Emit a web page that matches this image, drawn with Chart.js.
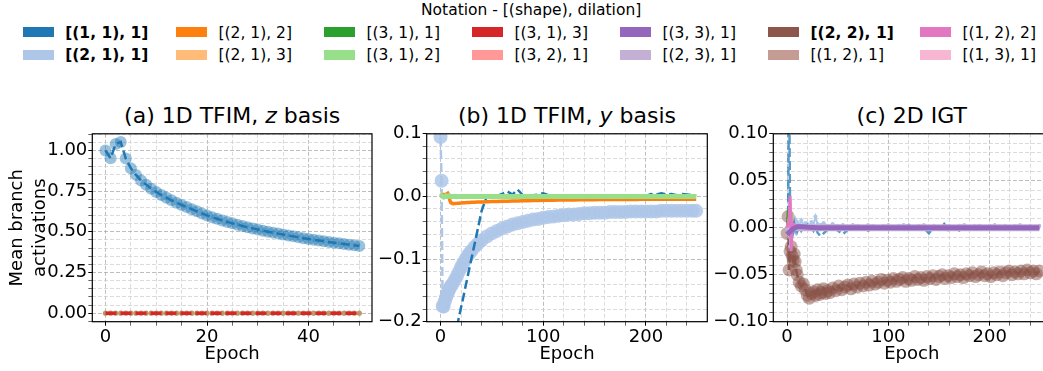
<!DOCTYPE html>
<html>
<head>
<meta charset="utf-8">
<script src="https://cdn.jsdelivr.net/npm/chart.js@4.4.1/dist/chart.umd.min.js"></script>
<style>
  html, body { margin: 0; padding: 0; background: #fff; }
  #page { position: relative; width: 1043px; height: 371px; overflow: hidden;
          font-family: 'DejaVu Sans', sans-serif; color: #000; }
  canvas { position: absolute; top: 100px; }
  .ptitle { position: absolute; top: 103.4px; font-size: 22px; line-height: 26px;
            white-space: nowrap; transform: translateX(-50%); }
  .lgtitle { position: absolute; left: 421px; top: 1.3px; font-size: 15.5px; line-height: 18px; white-space: nowrap; }
  .sw { position: absolute; width: 31px; height: 10px; }
  .lbl { position: absolute; font-size: 15.5px; line-height: 18px; white-space: nowrap; }
</style>
</head>
<body>
<div id="page">
  <div class="lgtitle">Notation - [(shape), dilation]</div>
  <div id="legend"></div>
  <div class="ptitle" style="left:232.2px">(a) 1D TFIM, <i>z</i> basis</div>
  <div class="ptitle" style="left:567px">(b) 1D TFIM, <i>y</i> basis</div>
  <div class="ptitle" style="left:911.8px">(c) 2D IGT</div>
  <canvas id="ca" width="380" height="271" style="left:0px"></canvas>
  <canvas id="cb" width="339" height="271" style="left:376px"></canvas>
  <canvas id="cc" width="351" height="271" style="left:706px"></canvas>
</div>
<script>
// legend
const legendLabels = ['[(1, 1), 1]', '[(2, 1), 1]', '[(2, 1), 2]', '[(2, 1), 3]', '[(3, 1), 1]', '[(3, 1), 2]', '[(3, 1), 3]',
  '[(3, 2), 1]', '[(3, 3), 1]', '[(2, 3), 1]', '[(2, 2), 1]', '[(1, 2), 1]', '[(1, 2), 2]', '[(1, 3), 1]'];
const legendColors = ['#1f77b4', '#aec7e8', '#ff7f0e', '#ffbb78', '#2ca02c', '#98df8a', '#d62728',
  '#ff9896', '#9467bd', '#c5b0d5', '#8c564b', '#c49c94', '#e377c2', '#f7b6d2'];
const legendBold = [true, true, false, false, false, false, false, false, false, false, true, false, false, false];

// (a) 1D TFIM, z basis
const epochsA = [0,1,2,3,4,5,6,7,8,9,10,11,12,13,14,15,16,17,18,19,20,21,22,23,24,25,
  26,27,28,29,30,31,32,33,34,35,36,37,38,39,40,41,42,43,44,45,46,47,48,49,50];
const blueA = [1.0, 0.952, 1.04, 1.052, 0.95, 0.89, 0.85, 0.815, 0.79, 0.765, 0.745,
  0.726, 0.71, 0.694, 0.679, 0.665, 0.652, 0.639, 0.626, 0.613, 0.601,
  0.59, 0.58, 0.57, 0.561, 0.552, 0.544, 0.536, 0.528, 0.521, 0.514,
  0.507, 0.501, 0.495, 0.489, 0.483, 0.477, 0.472, 0.466, 0.461, 0.456,
  0.451, 0.447, 0.442, 0.437, 0.433, 0.429, 0.425, 0.421, 0.417, 0.413];
const zeroA = [0,0,0,0,0,0,0,0,0,0,0,0,0,0,0,0,0,0,0,0,0,0,0,0,0,0,
  0,0,0,0,0,0,0,0,0,0,0,0,0,0,0,0,0,0,0,0,0,0,0,0,0];

// (b) and (c) share these epochs
const epochsBC = [0,1,2,3,4,5,6,7,8,9,10,
  12,14,16,18,20,22,24,26,28,30,
  33,36,40,
  45,50,55,60,65,70,75,80,85,90,
  95,100,105,110,115,120,125,130,135,140,
  145,150,155,160,165,170,175,180,185,190,
  195,200,205,210,215,220,225,230,235,240,
  245,249];
const epochsSpike = [0,1,2,3,4,5,6,7,8,10,15,20,30,50,100,150,200,249];
const epochsBrown = [0,1,2,3,4,5,6,7,8,9,10,
  12,14,16,18,20,22,24,26,28,30,32,34,36,38,40,
  42,45,48,51,54,57,60,63,66,69,72,75,78,81,84,87,90,93,96,99,
  102,105,108,111,114,117,120,123,126,129,132,135,138,141,144,147,150,153,156,159,
  162,165,168,171,174,177,180,183,186,189,192,195,198,201,204,207,210,213,216,219,
  222,225,228,231,234,237,240,243,246,249];

// (b) 1D TFIM, y basis
const lightBlueB = [0.095, 0.025, -0.175, -0.176, -0.168, -0.163, -0.158, -0.154, -0.150, -0.146, -0.143,
  -0.139, -0.133, -0.127, -0.120, -0.113, -0.107, -0.101, -0.096, -0.091, -0.087,
  -0.081, -0.076, -0.070,
  -0.064, -0.059, -0.055, -0.051, -0.048, -0.045, -0.043, -0.041, -0.039, -0.037,
  -0.036, -0.034, -0.033, -0.032, -0.031, -0.030, -0.029, -0.029, -0.028, -0.027,
  -0.027, -0.026, -0.026, -0.026, -0.025, -0.025, -0.025, -0.025, -0.024, -0.024,
  -0.024, -0.024, -0.024, -0.024, -0.023, -0.023, -0.023, -0.023, -0.023, -0.023,
  -0.023, -0.023];
const darkBlueB = [-0.330, -0.322, -0.315, -0.308, -0.300, -0.292, -0.285, -0.277, -0.270, -0.262, -0.254,
  -0.239, -0.223, -0.208, -0.192, -0.177, -0.162, -0.146, -0.131, -0.115, -0.100,
  -0.077, -0.054, -0.023,
  0.000, 0.002, 0.001, 0.004, 0.008, 0.003, 0.011, 0.002, 0.001, 0.002,
  0.003, 0.005, 0.002, 0.001, 0.001, 0.002, 0.001, 0.000, 0.001, 0.002,
  0.001, 0.002, 0.000, 0.001, 0.002, 0.001, 0.002, 0.001, 0.000, 0.001,
  0.002, 0.001, 0.004, 0.003, 0.005, 0.003, 0.004, 0.002, 0.004, 0.003,
  0.002, 0.001];
const orangeB = [0.000, 0.002, 0.002, 0.003, 0.003, 0.003, 0.004, 0.005, 0.002, -0.006, -0.010,
  -0.0115, -0.0112, -0.011, -0.0107, -0.0104, -0.0101, -0.0099, -0.0097, -0.0095, -0.0093,
  -0.0091, -0.0089, -0.0087,
  -0.0085, -0.0082, -0.008, -0.0078, -0.0076, -0.0074, -0.0072, -0.007, -0.0068, -0.0066,
  -0.0064, -0.0062, -0.006, -0.0059, -0.0058, -0.0057, -0.0056, -0.0055, -0.0054, -0.0053,
  -0.0052, -0.0051, -0.005, -0.005, -0.0049, -0.0049, -0.0048, -0.0048, -0.0047, -0.0047,
  -0.0046, -0.0046, -0.0046, -0.0046, -0.0046, -0.0045, -0.0045, -0.0045, -0.0045, -0.0045,
  -0.0045, -0.0045];
const greenB = [0.0, 0.001, 0.0, -0.001, 0.0, 0.001, 0.0, 0.0, 0.001, 0.0, 0.0, 0.0, 0.0, 0.0, 0.0, 0.0, 0.0, 0.0];

// (c) 2D IGT
const brownC = [-0.006, 0.012, -0.045, -0.025, -0.020, -0.030, -0.035, -0.028, -0.036, -0.045, -0.050,
  -0.058, -0.062, -0.060, -0.066, -0.072, -0.075, -0.070, -0.068, -0.072, -0.066, -0.071, -0.069, -0.065, -0.070, -0.067,
  -0.069, -0.064, -0.067, -0.062, -0.066, -0.063, -0.061, -0.065, -0.060, -0.063, -0.059, -0.062, -0.058, -0.061,
  -0.057, -0.060, -0.058, -0.055, -0.059, -0.056,
  -0.058, -0.054, -0.057, -0.055, -0.053, -0.057, -0.054, -0.056, -0.052, -0.055,
  -0.053, -0.056, -0.052, -0.054, -0.051, -0.055, -0.052, -0.050, -0.054, -0.051,
  -0.053, -0.049, -0.052, -0.050, -0.053, -0.049, -0.051, -0.048, -0.052, -0.050,
  -0.047, -0.051, -0.049, -0.052, -0.048, -0.050, -0.047, -0.051, -0.048, -0.046,
  -0.050, -0.047, -0.049, -0.046, -0.049, -0.045, -0.048, -0.046, -0.049, -0.046];
const darkBlueC = [0.000, 0.005, 0.160, 0.004, -0.010, 0.006, -0.003, 0.004, -0.002, 0.003, -0.004,
  0.002, -0.003, 0.001, -0.002, 0.002, -0.004, 0.001, -0.003, 0.002, -0.005,
  -0.009, -0.006, -0.002,
  0.001, -0.003, -0.007, -0.002, 0.000, -0.002, 0.001, -0.003, -0.001, 0.000,
  -0.002, 0.001, -0.001, -0.002, 0.000, 0.003, 0.002, -0.002, 0.000, -0.006,
  0.001, -0.001, 0.004, -0.004, 0.000, -0.003, 0.001, -0.001, 0.000, 0.002,
  -0.001, 0.001, 0.000, 0.002, -0.001, 0.001, 0.000, -0.001, 0.001, 0.000,
  0.001, 0.000];
const lightBlueC = [0.000, -0.004, 0.010, -0.020, 0.010, 0.008, 0.012, 0.005, 0.009, 0.004, 0.006,
  0.003, 0.008, 0.002, 0.005, 0.004, 0.002, 0.006, 0.003, 0.012, 0.004,
  0.003, 0.005, 0.002,
  0.004, 0.002, 0.003, 0.001, 0.003, 0.002, 0.001, 0.003, 0.002, 0.001,
  0.002, 0.003, 0.001, 0.002, 0.003, 0.002, 0.001, 0.002, 0.003, 0.001,
  0.002, 0.001, 0.003, 0.002, 0.001, 0.002, 0.003, 0.001, 0.002, 0.002,
  0.001, 0.002, 0.003, 0.001, 0.002, 0.001, 0.002, 0.003, 0.001, 0.002,
  0.001, 0.002];
const purpleC = [-0.007, -0.006, -0.005, -0.004, -0.003, -0.002, -0.001, -0.0005, 0.0, 0.001, 0.001, 0.0005, 0.0, 0.0, 0.0, 0.0, 0.0, 0.0];
const lavenderC = [-0.004, -0.003, -0.002, -0.002, -0.001, -0.001, 0.0, 0.0, 0.0, 0.0, 0.0, 0.0, 0.0, 0.0, 0.0, 0.0, 0.0, 0.0];
const pinkC = [0.0, 0.004, 0.010, 0.034, -0.025, 0.004, 0.002, 0.003, 0.001, 0.002, 0.001, 0.001, 0.0, 0.0, 0.0, 0.0, 0.0, 0.0];
const lightPinkC = [0.0, 0.002, 0.006, 0.012, -0.006, 0.003, 0.002, 0.002, 0.001, 0.001, 0.001, 0.0, 0.0, 0.0, 0.0, 0.0, 0.0, 0.0];
const greenC = [0.0, 0.019, -0.008, 0.006, -0.011, 0.002, -0.002, 0.001, 0.0, 0.002, 0.0, 0.001, 0.0, 0.0, 0.0, 0.0, 0.0, 0.0];
const orangeC = [0.0, 0.002, 0.004, 0.013, 0.015, 0.004, 0.001, 0.002, 0.0, 0.001, 0.0, 0.0, 0.0, 0.0, 0.0, 0.0, 0.0, 0.0];

// ---- legend (html) ----
const colLeft = [22.7, 176, 324, 472, 620, 768, 920];
const legendBox = document.getElementById('legend');
legendLabels.forEach((lab, k) => {
  const col = Math.floor(k / 2), row = k % 2;
  const sw = document.createElement('div');
  sw.className = 'sw';
  sw.style.left = colLeft[col] + 'px';
  sw.style.top = (row ? 50 : 26.7) + 'px';
  sw.style.background = legendColors[k];
  legendBox.appendChild(sw);
  const t = document.createElement('div');
  t.className = 'lbl';
  t.textContent = lab;
  t.style.left = (colLeft[col] + 42.5) + 'px';
  t.style.top = (row ? 46 : 23.5) + 'px';
  if (legendBold[k]) t.style.fontWeight = 'bold';
  legendBox.appendChild(t);
});

// ---- charts ----
Chart.defaults.font.family = "'DejaVu Sans', sans-serif";
Chart.defaults.color = '#000';

const frame = {
  id: 'frame',
  afterDraw(chart) {
    const { ctx, chartArea: a } = chart;
    ctx.save();
    ctx.strokeStyle = '#000';
    ctx.lineWidth = 1.2;
    ctx.strokeRect(a.left, a.top, a.right - a.left, a.bottom - a.top);
    ctx.restore();
  }
};

const minus = s => s.replace('-', '\u2212');
const clean = v => (Math.abs(v) < 1e-9 ? 0 : v);

function scale(o) {
  const isMaj = v => Math.abs(v / o.major - Math.round(v / o.major)) < 1e-6;
  const maj = c => c.tick && isMaj(c.tick.value);
  return {
    type: 'linear',
    min: o.min,
    max: o.max,
    afterFit: s => {
      if (o.width) s.width = o.width;
      if (o.height) s.height = o.height;
    },
    border: { display: false, dash: [4, 2] },
    grid: {
      color: c => (maj(c) ? '#adadad' : '#d2d2d2'),
      lineWidth: 0.8,
      tickLength: 4,
      tickColor: '#000',
      tickWidth: c => (maj(c) ? 1 : 0.6)
    },
    ticks: {
      stepSize: o.step,
      autoSkip: false,
      includeBounds: false,
      maxRotation: 0,
      padding: 1,
      font: { size: 18 },
      callback: v => (isMaj(v) ? o.fmt(clean(v)) : '')
    },
    title: o.title || { display: false }
  };
}

function ds(xs, ys, o) {
  return {
    data: xs.map((x, i) => ({ x: x, y: ys[i] })),
    borderColor: o.color,
    borderWidth: o.width || 0,
    borderDash: o.dash || [],
    showLine: !!o.width,
    pointRadius: o.r || 0,
    pointBackgroundColor: o.fill || o.color,
    pointBorderWidth: 0,
    fill: false,
    tension: 0
  };
}

function makeChart(id, datasets, xScale, yScale, pad) {
  datasets.forEach((d, i) => { d.order = -i; });
  return new Chart(document.getElementById(id), {
    type: 'line',
    data: { datasets: datasets },
    options: {
      responsive: false,
      animation: false,
      devicePixelRatio: 1,
      layout: { padding: pad },
      plugins: { legend: { display: false }, tooltip: { enabled: false } },
      scales: { x: xScale, y: yScale }
    },
    plugins: [frame]
  });
}

const epochTitle = { display: true, text: 'Epoch', font: { size: 18 }, padding: { top: 0, bottom: 6 } };
const intFmt = v => String(Math.round(v));

makeChart('ca', [
  ds(epochsA, zeroA, { color: 'rgba(184,146,98,0.95)', r: 2.6 }),
  ds(epochsA, zeroA, { color: '#d62728', width: 3.5, dash: [11, 4] }),
  ds(epochsA, blueA, { color: '#1f77b4', width: 2.5, dash: [9, 4], r: 6, fill: 'rgba(31,119,180,0.45)' })
],
  scale({ min: -2.6, max: 52.5, step: 5, major: 20, fmt: intFmt, height: 49.3, title: epochTitle }),
  scale({ min: -0.0525, max: 1.1025, step: 0.05, major: 0.25, fmt: v => v.toFixed(2), width: 92.3,
    title: { display: true, text: ['Mean branch', 'activations'], font: { size: 18, lineHeight: 1.28 }, padding: { top: 6, bottom: 0 } } }),
  { left: 0, right: 8, top: 33.8, bottom: 0 });

makeChart('cb', [
  ds(epochsBC, lightBlueB, { color: '#aec7e8', width: 2.5, dash: [9, 4], r: 7, fill: 'rgba(174,199,232,0.85)' }),
  ds(epochsBC, darkBlueB, { color: '#1f77b4', width: 2.5, dash: [9, 4] }),
  ds(epochsBC, orangeB, { color: '#ff7f0e', width: 3.5 }),
  ds(epochsSpike, greenB, { color: '#98df8a', width: 5 })
],
  scale({ min: -13.5, max: 259.8, step: 20, major: 100, fmt: intFmt, height: 49.3, title: epochTitle }),
  scale({ min: -0.2, max: 0.1, step: 0.02, major: 0.1, fmt: v => minus(v.toFixed(1)), width: 50.7 }),
  { left: 0, right: 7.7, top: 33.8, bottom: 0 });

makeChart('cc', [
  ds(epochsBrown, brownC, { color: '#8c564b', width: 2.5, dash: [9, 4], r: 6.5, fill: 'rgba(140,86,75,0.5)' }),
  ds(epochsBC, lightBlueC, { color: '#aec7e8', width: 2, r: 2 }),
  ds(epochsBC, darkBlueC, { color: 'rgba(31,119,180,0.75)', width: 2.5, dash: [9, 4] }),
  ds(epochsSpike, greenC, { color: '#2ca02c', width: 2.5 }),
  ds(epochsSpike, orangeC, { color: '#ff7f0e', width: 2.5 }),
  ds(epochsSpike, lavenderC, { color: '#c5b0d5', width: 7 }),
  ds(epochsSpike, lightPinkC, { color: '#f7b6d2', width: 4 }),
  ds(epochsSpike, pinkC, { color: '#e377c2', width: 3 }),
  ds(epochsSpike, purpleC, { color: '#9467bd', width: 5 })
],
  scale({ min: -13.6, max: 259.8, step: 20, major: 100, fmt: intFmt, height: 49.3, title: epochTitle }),
  scale({ min: -0.1, max: 0.1, step: 0.01, major: 0.05, fmt: v => minus(v.toFixed(2)), width: 67.3 }),
  { left: 0, right: 6.7, top: 33.8, bottom: 0 });
</script>
</body>
</html>
